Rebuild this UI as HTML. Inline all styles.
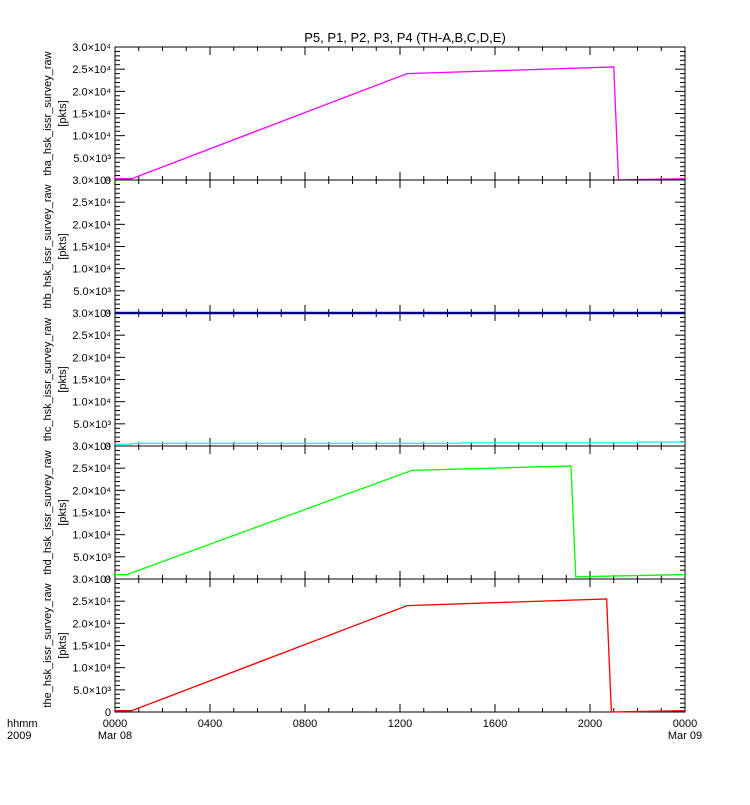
<!DOCTYPE html>
<html><head><meta charset="utf-8"><style>
body{margin:0;background:#fff;}
svg text{font-family:"Liberation Sans",sans-serif;font-size:11px;fill:#000;}
</style></head><body>
<svg id="chart" width="750" height="800" viewBox="0 0 750 800" xmlns="http://www.w3.org/2000/svg">
<text x="405" y="42" text-anchor="middle" style="font-size:13px">P5, P1, P2, P3, P4 (TH-A,B,C,D,E)</text>
<g id="plots"></g>
</svg>
<script>
const panelNames=["tha","thb","thc","thd","the"];
const panelColors=["#ff00ff","#0000ff","#00ffff","#00ff00","#ff0000"];
const yTicks=[0,5000,10000,15000,20000,25000,30000];
const yTickLabels=["0","5.0×10³","1.0×10⁴","1.5×10⁴","2.0×10⁴","2.5×10⁴","3.0×10⁴"];
const xTicks=[0,4,8,12,16,20,24];
const xTickLabels=["0000","0400","0800","1200","1600","2000","0000"];
const thaHours=[0,0.7,12.3,21.0,21.2,24];
const thaVals=[300,300,24000,25500,0,300];
const thbHours=[0,24];
const thbVals=[0,0];
const thcHours=[0,0.7,0.7,14.5,14.5,22,22,24];
const thcVals=[400,400,600,600,700,700,900,900];
const thdHours=[0,0.5,12.5,19.2,19.4,24];
const thdVals=[1000,1000,24500,25500,500,1000];
const theHours=[0,0.7,12.3,20.7,20.9,24];
const theVals=[300,300,24000,25500,0,300];
const seriesH=[thaHours,thbHours,thcHours,thdHours,theHours];
const seriesV=[thaVals,thbVals,thcVals,thdVals,theVals];
const L=115,R=685,T0=47,PH=133,YMAX=30000;
const NS="http://www.w3.org/2000/svg";
const g=document.getElementById('plots');
function mk(t,a,p){const e=document.createElementNS(NS,t);for(const k in a)e.setAttribute(k,a[k]);(p||g).appendChild(e);return e;}
const xs=h=>L+(R-L)*h/24;
for(let p=0;p<5;p++){
  const top=T0+p*PH,bot=top+PH;
  const ys=v=>bot-PH*v/YMAX;
  const pg=mk('g',{});
  
  
  const fr=mk('rect',{x:L,y:top,width:R-L,height:PH,fill:'none',stroke:'#000','stroke-width':1},pg);
  
  
  for(let v=0;v<=YMAX;v+=1000){
    const maj=v%5000===0,len=maj?10:5,y=ys(v);
    mk('line',{x1:L,x2:L+len,y1:y,y2:y,stroke:'#000'},pg);
    mk('line',{x1:R,x2:R-len,y1:y,y2:y,stroke:'#000'},pg);
  }
  for(let h=0;h<=24;h++){
    const maj=h%4===0,len=maj?8:4,x=xs(h);
    mk('line',{x1:x,x2:x,y1:bot,y2:bot-len,stroke:'#000'},pg);
    mk('line',{x1:x,x2:x,y1:top,y2:top+len,stroke:'#000'},pg);
  }
  yTicks.forEach((v,i)=>{
    const t=mk('text',{x:L-4,y:ys(v)+4,'text-anchor':'end'},pg);
    t.textContent=yTickLabels[i];
    
    
  });
  const cx=51,cy=top+PH/2;
  const yt=mk('text',{x:cx,y:cy,'text-anchor':'middle',transform:`rotate(-90 ${cx} ${cy})`},pg);
  yt.textContent=panelNames[p]+'_hsk_issr_survey_raw';
  
  
  const yu=mk('text',{x:cx+15,y:cy,'text-anchor':'middle',transform:`rotate(-90 ${cx+15} ${cy})`},pg);
  yu.textContent='[pkts]';
  
  
  const pts=seriesH[p].map((h,i)=>xs(h)+','+ys(seriesV[p][i])).join(' ');
  const ln=mk('polyline',{points:pts,fill:'none',stroke:panelColors[p],'stroke-width':p===1?2.5:1.3},pg);
  
  
}
const bot=T0+5*PH;
xTicks.forEach((h,i)=>{
  const t=mk('text',{x:xs(h),y:bot+15,'text-anchor':'middle'});
  t.textContent=xTickLabels[i];
  
  
});
[[0,'Mar 08'],[24,'Mar 09']].forEach(d=>{
  const t=mk('text',{x:xs(d[0]),y:bot+27,'text-anchor':'middle'});
  t.textContent=d[1];
  
  
});
const a=mk('text',{x:7,y:bot+15});a.textContent='hhmm';


const b=mk('text',{x:7,y:bot+27});b.textContent='2009';


</script>
</body></html>
